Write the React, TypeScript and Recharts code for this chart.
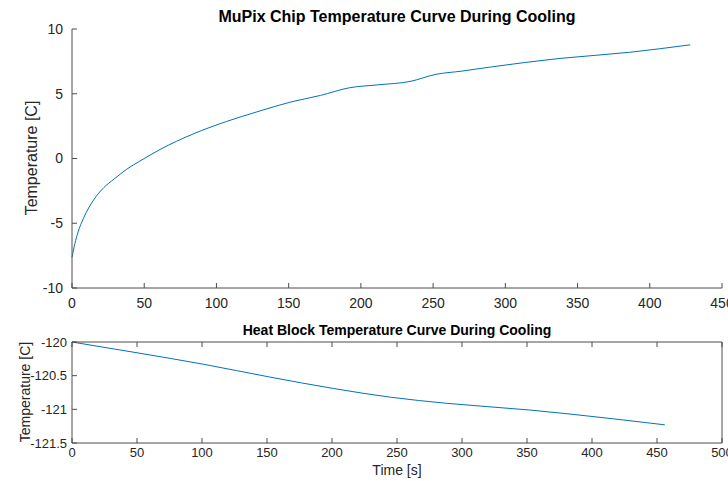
import { LineChart, Line, XAxis, YAxis } from 'recharts'

// MuPix chip temperature (top panel)
const chipTime = [0, 2, 4, 8, 15, 22, 29, 38, 47, 61, 84, 107, 128, 151, 172, 192, 212, 234, 252, 270, 289, 337, 386, 428]
const chipTemp = [-7.63, -6.57, -5.75, -4.6, -3.2, -2.25, -1.6, -0.82, -0.2, 0.7, 1.9, 2.86, 3.6, 4.35, 4.87, 5.46, 5.69, 5.95, 6.5, 6.75, 7.05, 7.72, 8.2, 8.78]

// heat block temperature (bottom panel)
const blockTime = [0, 50, 101, 152, 201, 245, 288, 352, 416, 456]
const blockTemp = [-120.0, -120.16, -120.33, -120.52, -120.69, -120.82, -120.91, -121.01, -121.14, -121.23]

const chipXTicks = [0, 50, 100, 150, 200, 250, 300, 350, 400, 450]
const chipYTicks = [-10, -5, 0, 5, 10]
const blockXTicks = [0, 50, 100, 150, 200, 250, 300, 350, 400, 450, 500]
const blockYTicks = [-121.5, -121, -120.5, -120]

const chipData = chipTime.map((t, i) => ({ t, v: chipTemp[i] }))
const blockData = blockTime.map((t, i) => ({ t, v: blockTemp[i] }))

const FONT = '"Liberation Sans", Arial, Helvetica, sans-serif'
const TEXT = '#262626'
const AXIS = '#4d4d4d'
const LINE = '#0072BD'

const rotLabel = (top: number, left: number, size: number) => ({
  position: 'absolute' as const,
  left,
  top,
  transform: 'translate(-50%, -50%) rotate(-90deg)',
  whiteSpace: 'nowrap' as const,
  fontSize: size,
  color: TEXT,
  fontFamily: FONT,
})

const title = (top: number, size: number) => ({
  position: 'absolute' as const,
  left: 397,
  top,
  transform: 'translate(-50%, -50%)',
  whiteSpace: 'nowrap' as const,
  fontSize: size,
  fontWeight: 'bold' as const,
  color: '#000',
  fontFamily: FONT,
})

export default function App() {
  const tick14 = { fill: TEXT, fontSize: 14, fontFamily: FONT }
  const tick13 = { fill: TEXT, fontSize: 13, fontFamily: FONT }
  const axisLine = { stroke: AXIS }
  const tickLine = { stroke: AXIS }

  return (
    <div style={{ position: 'fixed', left: 0, top: 0, width: 728, height: 481, background: '#fff' }}>
      <div style={{ position: 'absolute', left: 0, top: 0 }}>
        <LineChart width={728} height={320} data={chipData} margin={{ top: 29, right: 6, left: 0, bottom: 0 }}>
          <XAxis
            dataKey="t"
            type="number"
            domain={[0, 450]}
            ticks={chipXTicks}
            interval={0}
            height={32}
            tick={tick14}
            tickSize={-5}
            tickMargin={15}
            axisLine={axisLine}
            tickLine={tickLine}
          />
          <YAxis
            type="number"
            domain={[-10, 10]}
            ticks={chipYTicks}
            interval={0}
            width={72}
            tick={tick14}
            tickSize={-5}
            tickMargin={14}
            axisLine={axisLine}
            tickLine={tickLine}
          />
          <Line dataKey="v" type="monotone" stroke={LINE} strokeWidth={1} dot={false} isAnimationActive={false} />
        </LineChart>
      </div>

      <div style={{ position: 'absolute', left: 0, top: 310 }}>
        <LineChart width={728} height={171} data={blockData} margin={{ top: 30, right: 0, left: 0, bottom: 0 }}>
          <XAxis
            xAxisId="bottom"
            dataKey="t"
            type="number"
            domain={[0, 500]}
            ticks={blockXTicks}
            interval={0}
            height={38}
            tick={tick13}
            tickSize={-5}
            tickMargin={10}
            axisLine={axisLine}
            tickLine={tickLine}
          />
          <XAxis
            xAxisId="top"
            orientation="top"
            dataKey="t"
            type="number"
            domain={[0, 500]}
            ticks={blockXTicks}
            interval={0}
            height={2}
            tick={tick13}
            tickFormatter={() => ''}
            tickSize={-5}
            axisLine={axisLine}
            tickLine={tickLine}
          />
          <YAxis
            yAxisId="left"
            type="number"
            domain={[-121.5, -120]}
            ticks={blockYTicks}
            interval={0}
            width={72}
            tick={tick13}
            tickSize={-5}
            tickMargin={10}
            axisLine={axisLine}
            tickLine={tickLine}
          />
          <YAxis
            yAxisId="right"
            orientation="right"
            type="number"
            domain={[-121.5, -120]}
            ticks={blockYTicks}
            interval={0}
            width={6}
            tick={tick13}
            tickFormatter={() => ''}
            tickSize={-5}
            axisLine={axisLine}
            tickLine={tickLine}
          />
          <Line
            xAxisId="bottom"
            yAxisId="left"
            dataKey="v"
            type="monotone"
            stroke={LINE}
            strokeWidth={1}
            dot={false}
            isAnimationActive={false}
          />
        </LineChart>
      </div>

      <div style={title(17, 16)}>MuPix Chip Temperature Curve During Cooling</div>
      <div style={title(330, 14)}>Heat Block Temperature Curve During Cooling</div>
      <div style={rotLabel(158, 32, 16)}>Temperature [C]</div>
      <div style={rotLabel(392, 25, 14)}>Temperature [C]</div>
      <div
        style={{
          position: 'absolute',
          left: 397,
          top: 470,
          transform: 'translate(-50%, -50%)',
          whiteSpace: 'nowrap',
          fontSize: 14,
          color: TEXT,
          fontFamily: FONT,
        }}
      >
        Time [s]
      </div>
    </div>
  )
}
